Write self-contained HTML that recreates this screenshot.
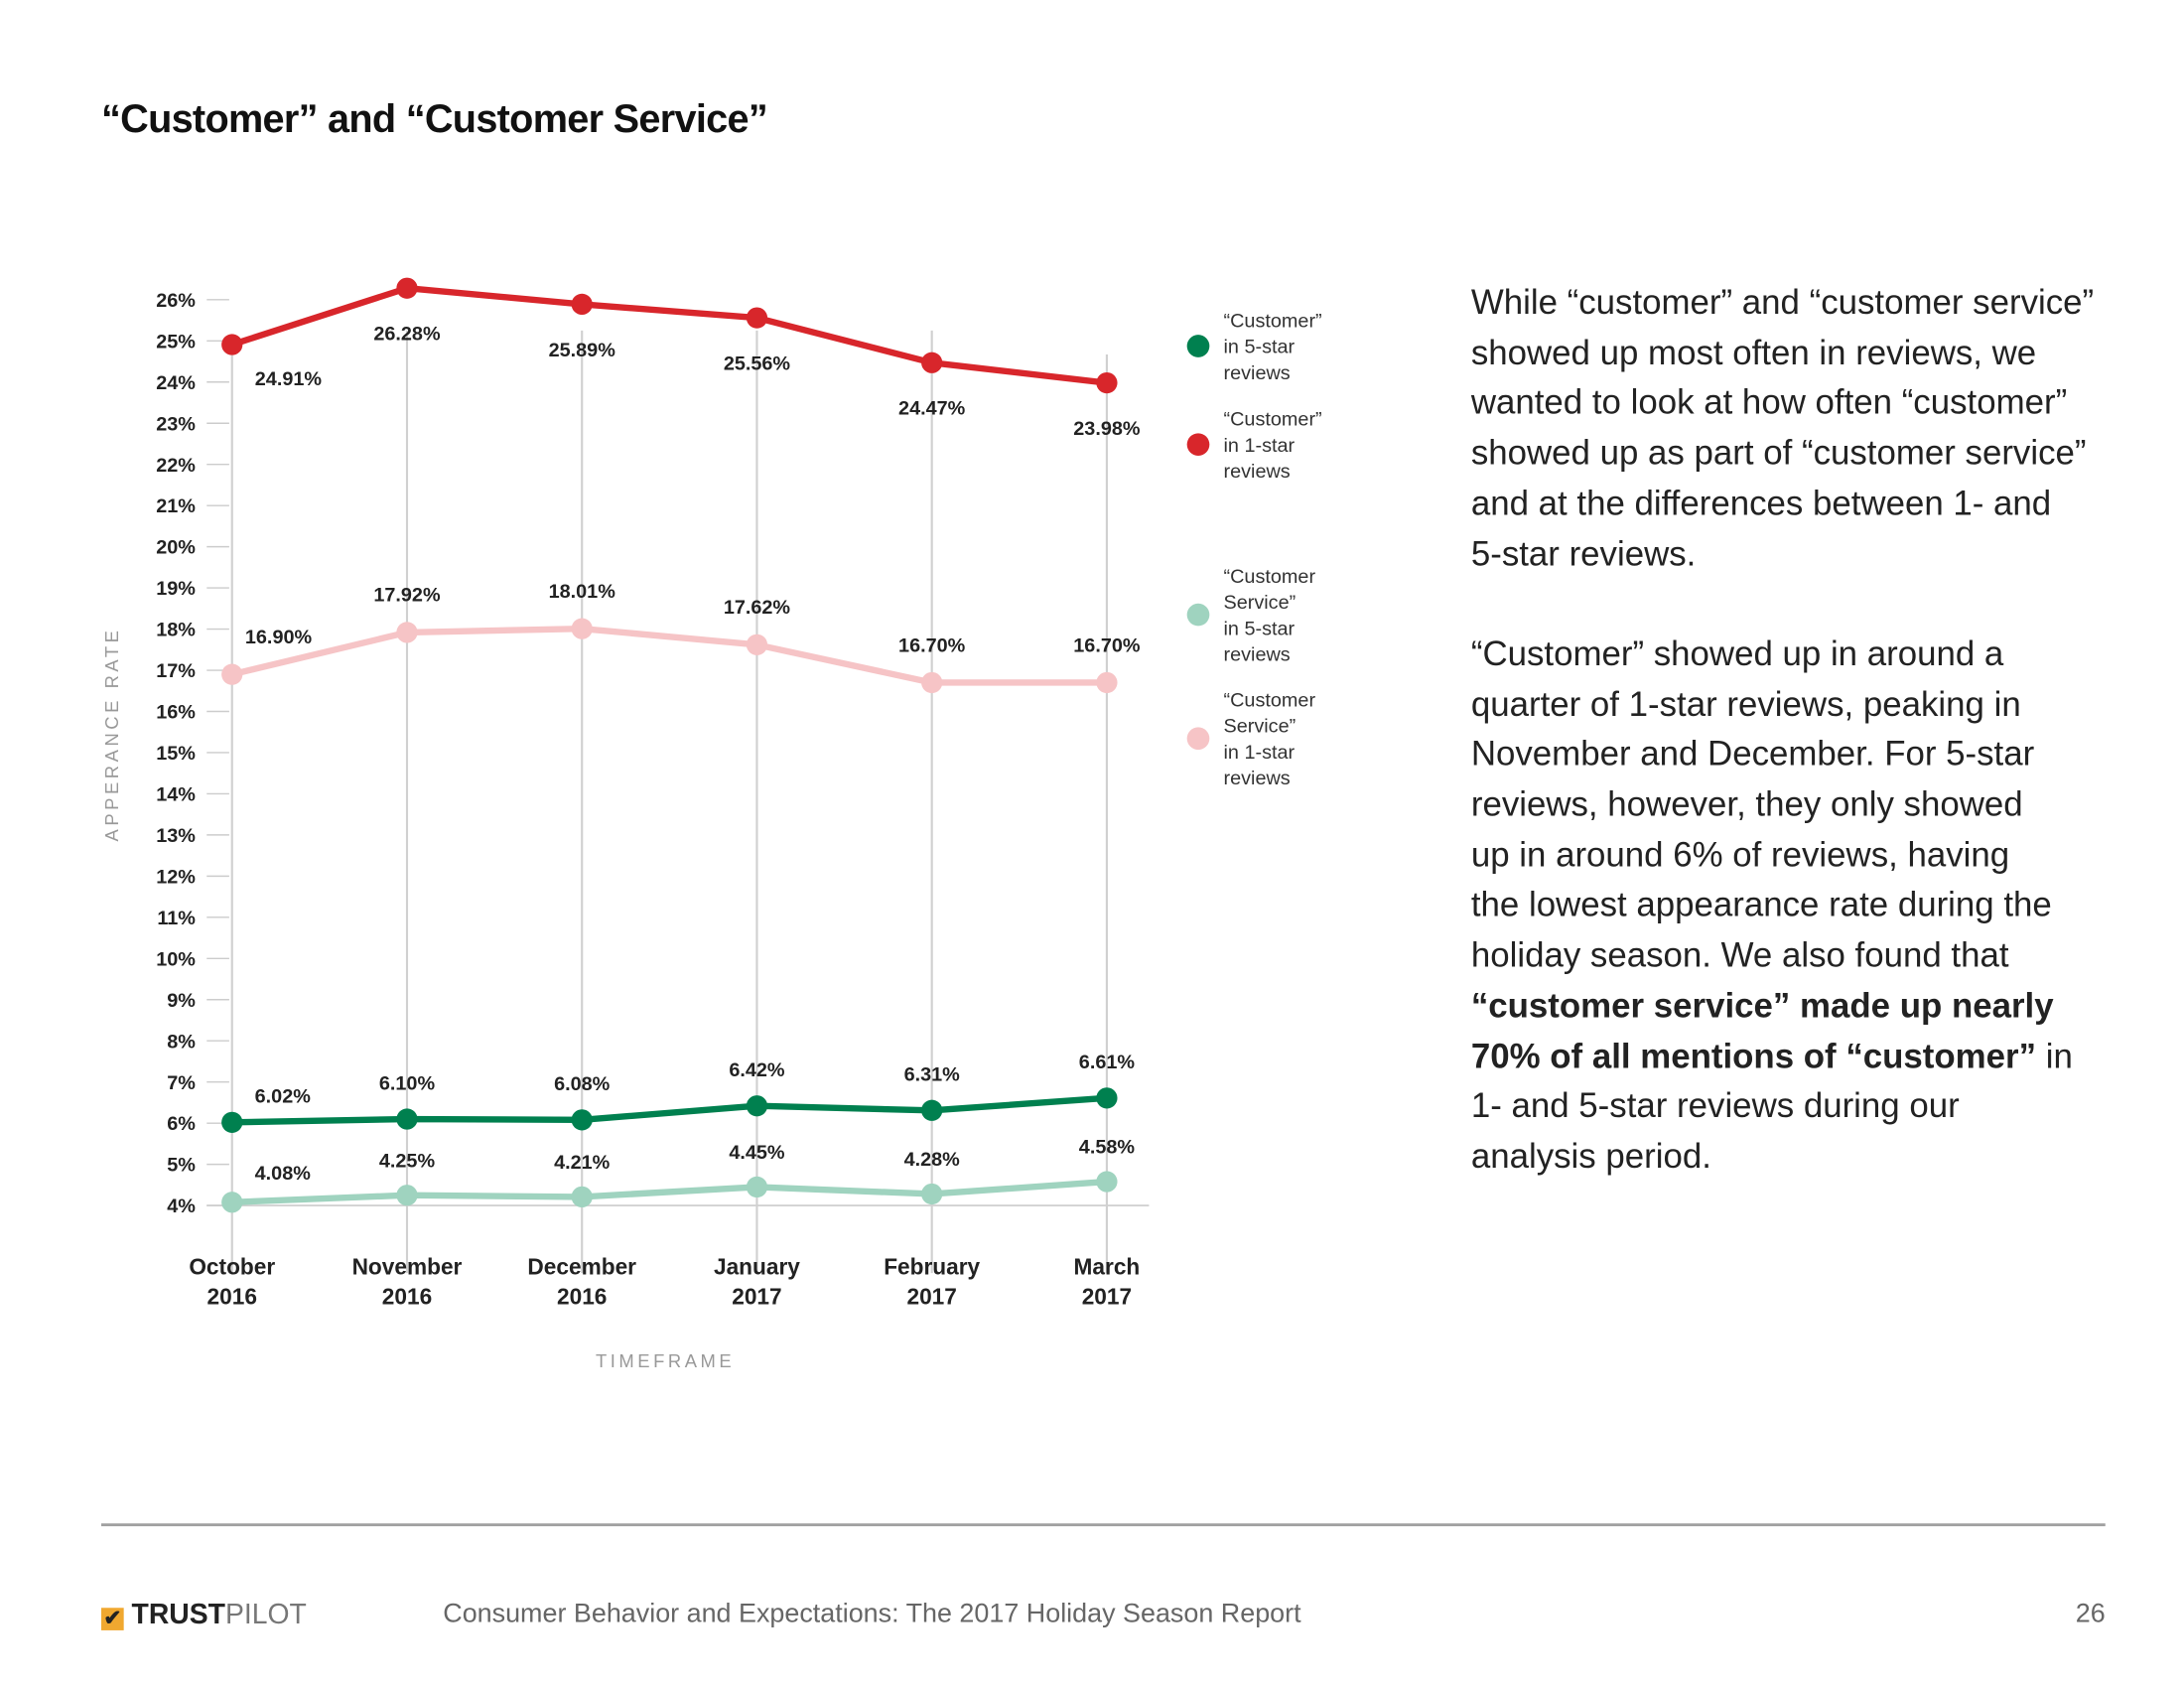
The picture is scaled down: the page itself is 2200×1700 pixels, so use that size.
<!DOCTYPE html>
<html><head><meta charset="utf-8">
<style>
html,body{margin:0;padding:0;background:#fff;}
body{width:2200px;height:1700px;overflow:hidden;position:relative;font-family:"Liberation Sans",sans-serif;}
#page{position:absolute;left:0;top:0;width:1553px;height:1200px;transform:scale(1.41667);transform-origin:0 0;}
.title{position:absolute;left:72px;top:69px;font-size:28px;font-weight:bold;color:#111;letter-spacing:-0.5px;}
.para{position:absolute;left:1046px;top:198px;font-size:24.6px;line-height:35.7px;color:#222;width:500px;white-space:nowrap;}
.footline{position:absolute;left:72px;top:1083px;width:1425px;height:1.5px;background:#a0a0a0;}
.foottext{position:absolute;left:315px;top:1137px;font-size:19px;color:#666;}
.pagenum{position:absolute;right:56px;top:1137px;font-size:19px;color:#666;}
.logo{position:absolute;left:72px;top:1137px;font-size:20px;font-weight:bold;color:#222;}
svg text{font-family:"Liberation Sans",sans-serif;}
</style></head><body>
<div id="page">
<div class="title">“Customer” and “Customer Service”</div>
<svg id="chart" width="1553" height="1200" style="position:absolute;left:0;top:0"></svg>
<div class="para">While “customer” and “customer service”<br>showed up most often in reviews, we<br>wanted to look at how often “customer”<br>showed up as part of “customer service”<br>and at the differences between 1- and<br>5-star reviews.<br><br>“Customer” showed up in around a<br>quarter of 1-star reviews, peaking in<br>November and December. For 5-star<br>reviews, however, they only showed<br>up in around 6% of reviews, having<br>the lowest appearance rate during the<br>holiday season. We also found that<br><b>“customer service” made up nearly<br>70% of all mentions of “customer”</b> in<br>1- and 5-star reviews during our<br>analysis period.</div>
<div class="footline"></div>
<div class="logo"><span style="display:inline-block;width:16px;height:16px;background:#f0a830;color:#222;font-size:15px;line-height:16px;text-align:center;vertical-align:-1px;">✔</span> TRUST<span style="color:#777;font-weight:normal">PILOT</span></div>
<div class="foottext">Consumer Behavior and Expectations: The 2017 Holiday Season Report</div>
<div class="pagenum">26</div>
</div>
<script>
const categories = [["October","2016"],["November","2016"],["December","2016"],["January","2017"],["February","2017"],["March","2017"]];
const cust1Star = [24.91,26.28,25.89,25.56,24.47,23.98];
const cs1Star = [16.90,17.92,18.01,17.62,16.70,16.70];
const cust5Star = [6.02,6.10,6.08,6.42,6.31,6.61];
const cs5Star = [4.08,4.25,4.21,4.45,4.28,4.58];
const yTicks = [4,5,6,7,8,9,10,11,12,13,14,15,16,17,18,19,20,21,22,23,24,25,26];

const NS="http://www.w3.org/2000/svg";
const svg=document.getElementById('chart');
function el(tag,attrs,parent){const e=document.createElementNS(NS,tag);for(const k in attrs)e.setAttribute(k,attrs[k]);(parent||svg).appendChild(e);return e;}
const x0=165,dx=124.4;
function xs(i){return x0+i*dx;}
function ys(v){return 857-(v-4)*29.27;}

yTicks.forEach(t=>{
  const l=el('line',{x1:147,x2:163,y1:ys(t),y2:ys(t),stroke:'#ccc','stroke-width':1});
  
  
  const tx=el('text',{x:139,y:ys(t)+5,'text-anchor':'end','font-size':14,'font-weight':'bold',fill:'#222'});
  tx.textContent=t+'%';
  
  
});
const ax=el('line',{x1:147,x2:817,y1:857,y2:857,stroke:'#ccc','stroke-width':1.2});


categories.forEach((c,i)=>{
  const g=el('line',{x1:xs(i),x2:xs(i),y1:(i==0?250:i==5?252:235),y2:905,stroke:'#d0d0d0','stroke-width':1.5});
  
  
  const t=el('text',{x:xs(i),y:906,'text-anchor':'middle','font-size':16,'font-weight':'bold',fill:'#222'});
  
  
  const a=el('tspan',{x:xs(i),dy:0},t);a.textContent=c[0];
  const b=el('tspan',{x:xs(i),dy:21},t);b.textContent=c[1];
});
const yt=el('text',{x:0,y:0,transform:'translate(84,522) rotate(-90)','text-anchor':'middle','font-size':13,fill:'#999','letter-spacing':2.5});
yt.textContent='APPERANCE RATE';


const xt=el('text',{x:473,y:972,'text-anchor':'middle','font-size':13,fill:'#999','letter-spacing':2.5});
xt.textContent='TIMEFRAME';



function series(vals,color,name,firstOff,otherOff){
  const pts=vals.map((v,i)=>xs(i)+','+ys(v)).join(' ');
  const p=el('polyline',{points:pts,fill:'none',stroke:color,'stroke-width':4.5,'stroke-linejoin':'round'});
  
  
  vals.forEach((v,i)=>{
    const c=el('circle',{cx:xs(i),cy:ys(v),r:7.5,fill:color});
    
    
    const o=i==0?firstOff:otherOff;
    const t=el('text',{x:xs(i)+o[0],y:ys(v)+o[1],'text-anchor':'middle','font-size':14,'font-weight':'bold',fill:'#222'});
    t.textContent=v.toFixed(2)+'%';
    
    
  });
}
series(cust1Star,'#d8262b','customer-1-star',[40,29],[0,37]);
series(cs1Star,'#f6c4c6','customer-service-1-star',[33,-22],[0,-22]);
series(cust5Star,'#00804f','customer-5-star',[36,-14],[0,-21]);
series(cs5Star,'#9fd3bf','customer-service-5-star',[36,-16],[0,-20]);

const legend=[['#00804f',246,['“Customer”','in 5-star','reviews']],['#d8262b',316,['“Customer”','in 1-star','reviews']],['#9fd3bf',437,['“Customer','Service”','in 5-star','reviews']],['#f6c4c6',525,['“Customer','Service”','in 1-star','reviews']]];
legend.forEach(l=>{
  const c=el('circle',{cx:852,cy:l[1],r:8,fill:l[0]});
  
  
  const n=l[2].length;const top=l[1]-(n-1)*18.5/2+5;
  const t=el('text',{x:870,y:top,'font-size':14,fill:'#333'});
  
  
  l[2].forEach((s,k)=>{const sp=el('tspan',{x:870,dy:k?18.5:0},t);sp.textContent=s;});
});
</script>
</body></html>
